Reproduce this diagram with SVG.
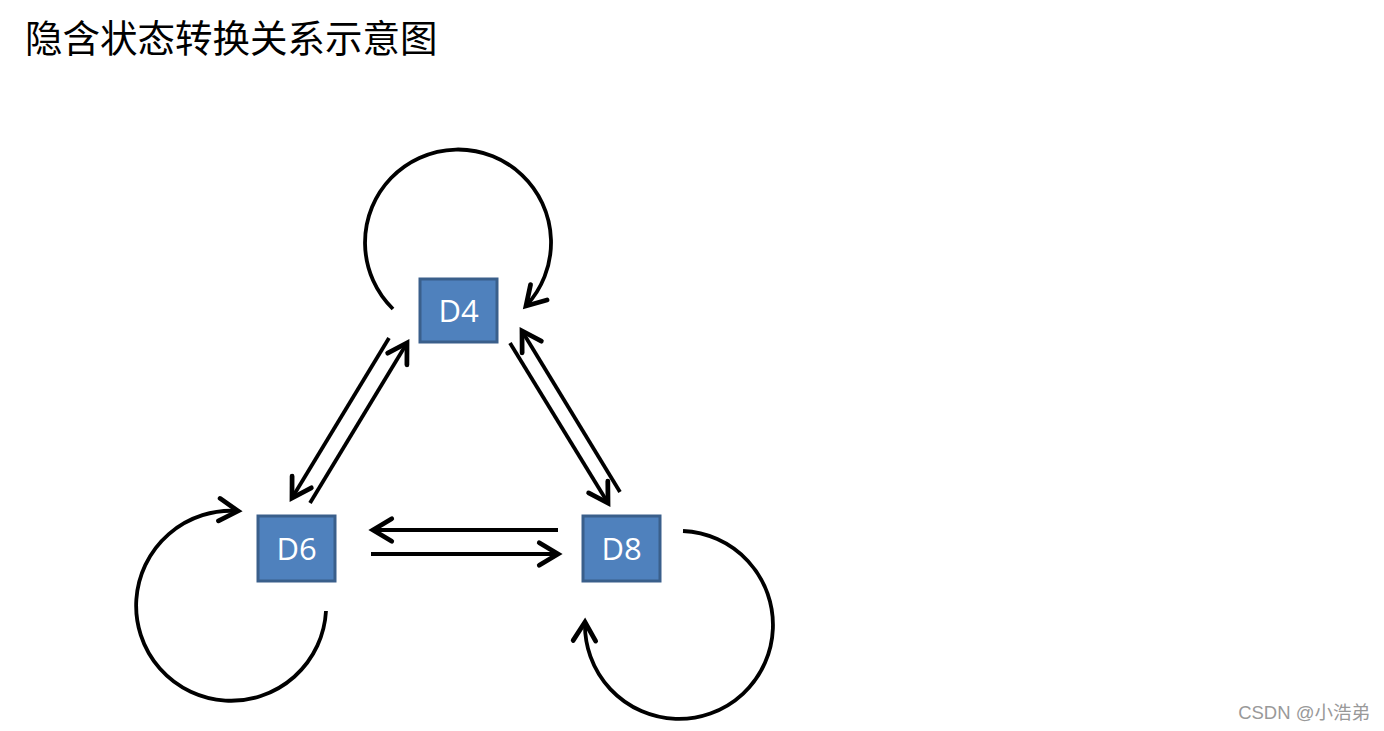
<svg xmlns="http://www.w3.org/2000/svg" width="1384" height="731" viewBox="0 0 1384 731">
<style>
.box{fill:#4F81BD;stroke:#3A5F8B;stroke-width:3}
.lbl{fill:#fff;font-family:"Open Sans","Liberation Sans",sans-serif;font-size:31px;text-anchor:middle}
.edge{fill:none;stroke:#000;stroke-width:3.8;marker-end:url(#ah)}
</style>
<defs>
<marker id="ah" markerUnits="userSpaceOnUse" markerWidth="30" markerHeight="30" viewBox="-20 -12 24 24" refX="0" refY="0" orient="auto" overflow="visible">
<path d="M-15 -9 L0 0 L-15 9" fill="none" stroke="#000" stroke-width="3.8" stroke-linecap="round" stroke-linejoin="miter"/>
</marker>
</defs>
<rect width="1384" height="731" fill="#fff"/>
<text x="25" y="52" font-family="'Noto Sans CJK SC',sans-serif" font-size="37.5" fill="#000">隐含状态转换关系示意图</text>
<g id="connectors">
<path class="edge" d="M393 309 A93 93 0 1 1 526 306"/>
<path class="edge" d="M326 611 A95 95 0 1 1 238 511"/>
<path class="edge" d="M683 531 A94 94 0 1 1 585 622"/>
<path class="edge" d="M389 338 L292 498"/>
<path class="edge" d="M310 503 L407 343"/>
<path class="edge" d="M510 343 L608 503"/>
<path class="edge" d="M620 492 L522 331"/>
<path class="edge" d="M558 530 L373 530"/>
<path class="edge" d="M371 554 L558 554"/>
</g>
<g id="D4">
<rect class="box" x="420" y="279" width="77" height="63"/>
<text class="lbl" x="458.5" y="322">D4</text>
</g>
<g id="D6">
<rect class="box" x="258" y="516" width="77" height="65"/>
<text class="lbl" x="296.5" y="560">D6</text>
</g>
<g id="D8">
<rect class="box" x="583" y="516" width="77" height="65"/>
<text class="lbl" x="621.5" y="560">D8</text>
</g>
<text x="1370" y="719" font-family="'Liberation Sans','Noto Sans CJK SC',sans-serif" font-size="18.5" fill="#999" text-anchor="end">CSDN @小浩弟</text>
</svg>
